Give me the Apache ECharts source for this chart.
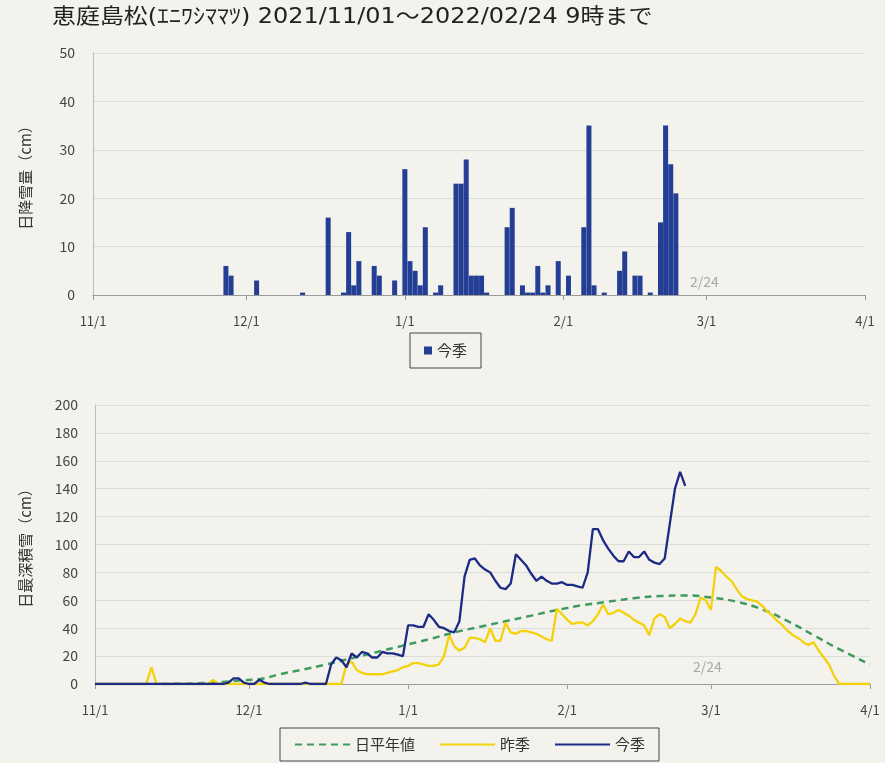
<!DOCTYPE html>
<html>
<head>
<meta charset="utf-8">
<script src="https://cdn.jsdelivr.net/npm/echarts@6/dist/echarts.min.js"></script>
<style>
  html, body { margin: 0; padding: 0; background: #F3F2EC; }
  #chart { width: 885px; height: 763px; }
</style>
</head>
<body>
<div id="chart"></div>
<script>
// Axis tick dates (day offset from 2021/11/01) and their labels
const tickDays = [0, 30, 61, 92, 120, 151];
const tickLabels = ['11/1', '12/1', '1/1', '2/1', '3/1', '4/1'];

// 今季 daily snowfall (cm), from 11/01 to 02/24
const snowfallCurrent = [
  0,0,0,0,0,0,0,0,0,0,
  0,0,0,0,0,0,0,0,0,0,
  0,0,0,0,0,0,6,4,0,0,
  0,0,3,0,0,0,0,0,0,0,
  0,0.5,0,0,0,0,16,0,0,0.5,
  13,2,7,0,0,6,4,0,0,3,
  0,26,7,5,2,14,0,0.5,2,0,
  0,23,23,28,4,4,4,0.5,0,0,
  0,14,18,0,2,0.5,0.5,6,0.5,2,
  0,7,0,4,0,0,14,35,2,0,
  0.5,0,0,5,9,0,4,4,0,0.5,
  0,15,35,27,21,0
];

// 今季 daily max snow depth (cm), 11/01 to 02/24
const depthCurrent = [
  0,0,0,0,0,0,0,0,0,0,
  0,0,0,0,0,0,0,0,0,0,
  0,0,0,0,0,0,1,4,4,1,
  0,0,3,1,0,0,0,0,0,0,
  0,1,0,0,0,0,14,19,17,12,
  22,19,23,22,19,19,23,22,22,21,
  20,42,42,41,41,50,46,41,40,38,
  37,45,77,89,90,85,82,80,74,69,
  68,72,93,89,85,79,74,77,74,72,
  72,73,71,71,70,69,80,111,111,103,
  97,92,88,88,95,91,91,95,89,87,
  86,90,115,140,152,142
];

// 昨季 daily max snow depth (cm), 11/01 to 04/01
const depthLast = [
  0,0,0,0,0,0,0,0,0,0,
  0,12,0,0,0,0,0,0,0,0,
  0,0,0,3,0,0,0,0,0,0,
  0,0,0,0,0,0,0,0,0,0,
  0,0,0,0,0,0,0,0,0,14,
  16,10,8,7,7,7,7,8,9,10,
  12,13,15,15,14,13,13,14,20,35,
  27,24,26,33,33,32,30,40,31,31,
  44,37,36,38,38,37,36,34,32,31,
  54,50,46,43,44,44,42,45,50,57,
  50,51,53,51,49,46,44,42,35,47,
  50,48,40,43,47,45,44,50,62,60,
  53,84,81,77,74,68,63,61,60,59,
  56,52,49,45,42,38,35,33,30,28,
  30,24,19,14,6,0,0,0,0,0,
  0,0
];

// 日平年値 (normal) read at sampled days: [day offset, cm]
const normalDays   = [13, 20, 25, 28, 32, 36, 40, 45, 50, 55, 60, 65, 70, 75, 80, 85, 90, 95, 100, 105, 110, 115, 120, 125, 130, 135, 140, 145, 151];
const normalValues = [0, 0.5, 1.5, 2.5, 3.5, 7, 10, 14, 18.5, 23, 27.5, 32, 37, 41, 45, 49, 53, 56.5, 59, 61.5, 63, 63.5, 62, 59, 53.5, 45, 35, 25, 14];

const FONT = '"Noto Sans CJK JP", "Noto Sans", sans-serif';
const TITLE_FONT = '"DejaVu Sans", "Noto Sans CJK JP", sans-serif';
const chart = echarts.init(document.getElementById('chart'), null, { renderer: 'canvas' });

function xAxisCfg(gridIndex) {
  return {
    type: 'value', gridIndex: gridIndex, min: 0, max: 151,
    splitLine: { show: false },
    axisLine: { lineStyle: { color: '#9A9A9A', width: 1 } },
    axisTick: { show: true, customValues: tickDays, length: 5, lineStyle: { color: '#9A9A9A' } },
    axisLabel: {
      customValues: tickDays, margin: 20, color: '#444', fontSize: 13, fontFamily: FONT,
      formatter: function (v) { const i = tickDays.indexOf(v); return i >= 0 ? tickLabels[i] : ''; }
    }
  };
}

const option = {
  backgroundColor: '#F3F2EC',
  animation: false,
  textStyle: { fontFamily: FONT },
  graphic: [
    { type: 'text', left: 52, top: 7, scaleX: 1.14,
      style: { text: '恵庭島松(ｴﾆﾜｼﾏﾏﾂ) 2021/11/01～2022/02/24 9時まで', fill: '#222', font: '21px ' + TITLE_FONT } },
    { type: 'text', left: 690, top: 275, style: { text: '2/24', fill: '#A8A8A8', font: '14px ' + FONT } },
    { type: 'text', left: 693, top: 660, style: { text: '2/24', fill: '#A8A8A8', font: '14px ' + FONT } }
  ],
  grid: [
    { left: 93, right: 20, top: 53, height: 242 },
    { left: 95, right: 15, top: 405, height: 279 }
  ],
  xAxis: [xAxisCfg(0), xAxisCfg(1)],
  yAxis: [
    { type: 'value', gridIndex: 0, min: 0, max: 50, interval: 10,
      name: '日降雪量（cm）', nameLocation: 'middle', nameGap: 60,
      nameTextStyle: { fontSize: 15, color: '#333', fontFamily: FONT },
      axisLine: { show: true, lineStyle: { color: '#BBBBBB' } },
      axisTick: { show: false },
      axisLabel: { color: '#444', fontSize: 14, margin: 18 },
      splitLine: { lineStyle: { color: '#DCDCD8' } } },
    { type: 'value', gridIndex: 1, min: 0, max: 200, interval: 20,
      name: '日最深積雪（cm）', nameLocation: 'middle', nameGap: 62,
      nameTextStyle: { fontSize: 15, color: '#333', fontFamily: FONT },
      axisLine: { show: true, lineStyle: { color: '#BBBBBB' } },
      axisTick: { show: false },
      axisLabel: { color: '#444', fontSize: 14, margin: 17 },
      splitLine: { lineStyle: { color: '#DCDCD8' } } }
  ],
  legend: [
    { data: ['今季'], left: 410, top: 333, icon: 'rect', itemWidth: 8, itemHeight: 8, itemGap: 5,
      borderColor: '#444', borderWidth: 1, padding: [10, 14],
      textStyle: { fontSize: 15, color: '#333', fontFamily: FONT } },
    { data: ['日平年値', '昨季', '今季 '], left: 280, top: 728, itemWidth: 55, itemHeight: 3, itemGap: 24,
      borderColor: '#444', borderWidth: 1, padding: [9, 14],
      itemStyle: { opacity: 0 },
      formatter: function (n) { return n.trim(); },
      textStyle: { fontSize: 15, color: '#333', fontFamily: FONT } }
  ],
  series: [
    { name: '今季', type: 'bar', xAxisIndex: 0, yAxisIndex: 0, barWidth: 5,
      itemStyle: { color: '#233E94' },
      data: snowfallCurrent.map(function (v, i) { return [i, v]; }) },
    { name: '日平年値', type: 'line', xAxisIndex: 1, yAxisIndex: 1, smooth: true, symbol: 'none',
      lineStyle: { type: [7, 5], color: '#3E9A5E', width: 2.5 }, itemStyle: { color: '#3E9A5E' },
      data: normalDays.map(function (d, i) { return [d, normalValues[i]]; }) },
    { name: '昨季', type: 'line', xAxisIndex: 1, yAxisIndex: 1, symbol: 'none',
      lineStyle: { color: '#F4D20A', width: 2.3 }, itemStyle: { color: '#F4D20A' },
      data: depthLast.map(function (v, i) { return [i, v]; }) },
    { name: '今季 ', type: 'line', xAxisIndex: 1, yAxisIndex: 1, symbol: 'none',
      lineStyle: { color: '#1C2A86', width: 2.3 }, itemStyle: { color: '#1C2A86' },
      data: depthCurrent.map(function (v, i) { return [i, v]; }) }
  ]
};
chart.setOption(option);
</script>
</body>
</html>
